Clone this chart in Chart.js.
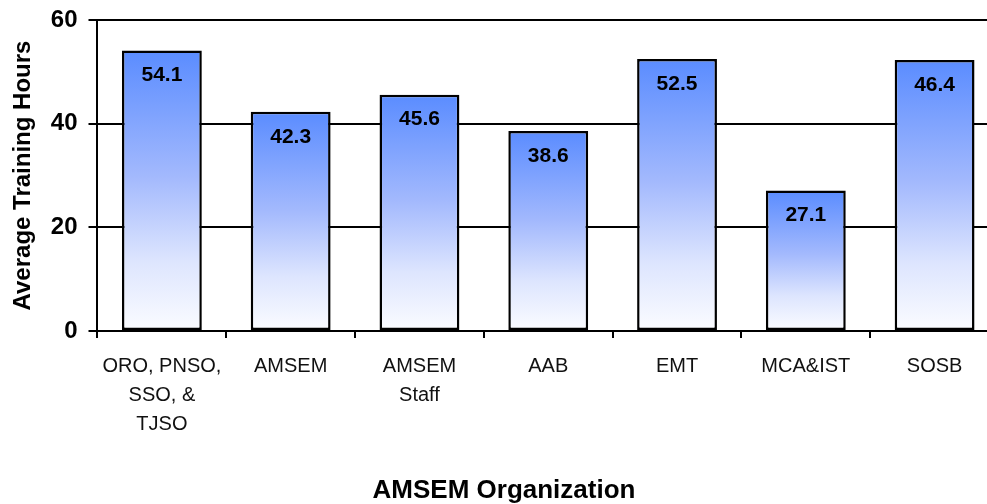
<!DOCTYPE html>
<html>
<head>
<meta charset="utf-8">
<script src="https://cdn.jsdelivr.net/npm/chart.js@4"></script>
<style>
    body { margin: 0; background: #fff; overflow: hidden; }
    #wrap { width: 1056px; height: 504px; }
</style>
</head>
<body>
<div id="wrap"><canvas id="trainingChart" width="1056" height="504"></canvas></div>
<script>
const categories = [
    ['ORO, PNSO,', 'SSO, &', 'TJSO'],
    'AMSEM',
    ['AMSEM', 'Staff'],
    'AAB',
    'EMT',
    'MCA&IST',
    'SOSB'
];
// bar heights as drawn in the picture
const avgHours = [54.1, 42.3, 45.6, 38.6, 52.5, 27.1, 52.3];
// value labels as printed on the bars
const barLabels = ['54.1', '42.3', '45.6', '38.6', '52.5', '27.1', '46.4'];
const yTicks = [0, 20, 40, 60];

const FONT = "'Liberation Sans', Arial, sans-serif";

function barGradient(context) {
    const chart = context.chart;
    if (!chart.chartArea) return '#5a8cff';
    const yScale = chart.scales.y;
    const top = yScale.getPixelForValue(context.raw);
    const bottom = yScale.getPixelForValue(0);
    const g = chart.ctx.createLinearGradient(0, top, 0, bottom);
    g.addColorStop(0, '#5a8cff');
    g.addColorStop(0.45, '#a3b9fd');
    g.addColorStop(0.75, '#dde5fe');
    g.addColorStop(1, '#fbfcff');
    return g;
}

const valueLabels = {
    id: 'valueLabels',
    afterDatasetsDraw(chart) {
        const ctx = chart.ctx;
        const meta = chart.getDatasetMeta(0);
        ctx.save();
        ctx.font = 'bold 21px ' + FONT;
        ctx.fillStyle = '#000';
        ctx.textAlign = 'center';
        ctx.textBaseline = 'middle';
        meta.data.forEach((bar, i) => {
            ctx.fillText(barLabels[i], bar.x, bar.y + 25);
        });
        ctx.restore();
    }
};

new Chart(document.getElementById('trainingChart'), {
    type: 'bar',
    data: {
        labels: categories,
        datasets: [{
            data: avgHours,
            backgroundColor: barGradient,
            borderColor: '#000',
            borderWidth: 2.5,
            borderSkipped: false,
            categoryPercentage: 1,
            barPercentage: 0.62
        }]
    },
    options: {
        responsive: false,
        animation: false,
        layout: { padding: { left: 9, right: 57, top: 0, bottom: 0 } },
        plugins: {
            legend: { display: false },
            tooltip: { enabled: false },
            title: {
                display: true,
                position: 'bottom',
                text: 'AMSEM Organization',
                color: '#000',
                font: { family: FONT, size: 26, weight: 'bold', lineHeight: 1.0 },
                padding: { top: 25, bottom: 0 }
            }
        },
        scales: {
            x: {
                offset: true,
                grid: {
                    offset: true,
                    drawOnChartArea: false,
                    drawTicks: true,
                    tickLength: 7,
                    color: '#000',
                    lineWidth: 2
                },
                border: { display: true, color: '#000', width: 2 },
                ticks: {
                    color: '#111',
                    padding: 14,
                    maxRotation: 0,
                    autoSkip: false,
                    font: { family: FONT, size: 20, lineHeight: 1.45 }
                }
            },
            y: {
                min: 0,
                max: 60,
                afterBuildTicks(axis) {
                    axis.ticks = yTicks.map(v => ({ value: v }));
                },
                grid: {
                    color: '#000',
                    lineWidth: 2,
                    tickLength: 9
                },
                border: { display: true, color: '#000', width: 2 },
                ticks: {
                    color: '#000',
                    padding: 11,
                    font: { family: FONT, size: 24, weight: 'bold', lineHeight: 0.75 }
                },
                title: {
                    display: true,
                    text: 'Average Training Hours',
                    color: '#000',
                    font: { family: FONT, size: 24, weight: 'bold' },
                    padding: { top: 0, bottom: 2 }
                }
            }
        }
    },
    plugins: [valueLabels]
});
</script>
</body>
</html>
